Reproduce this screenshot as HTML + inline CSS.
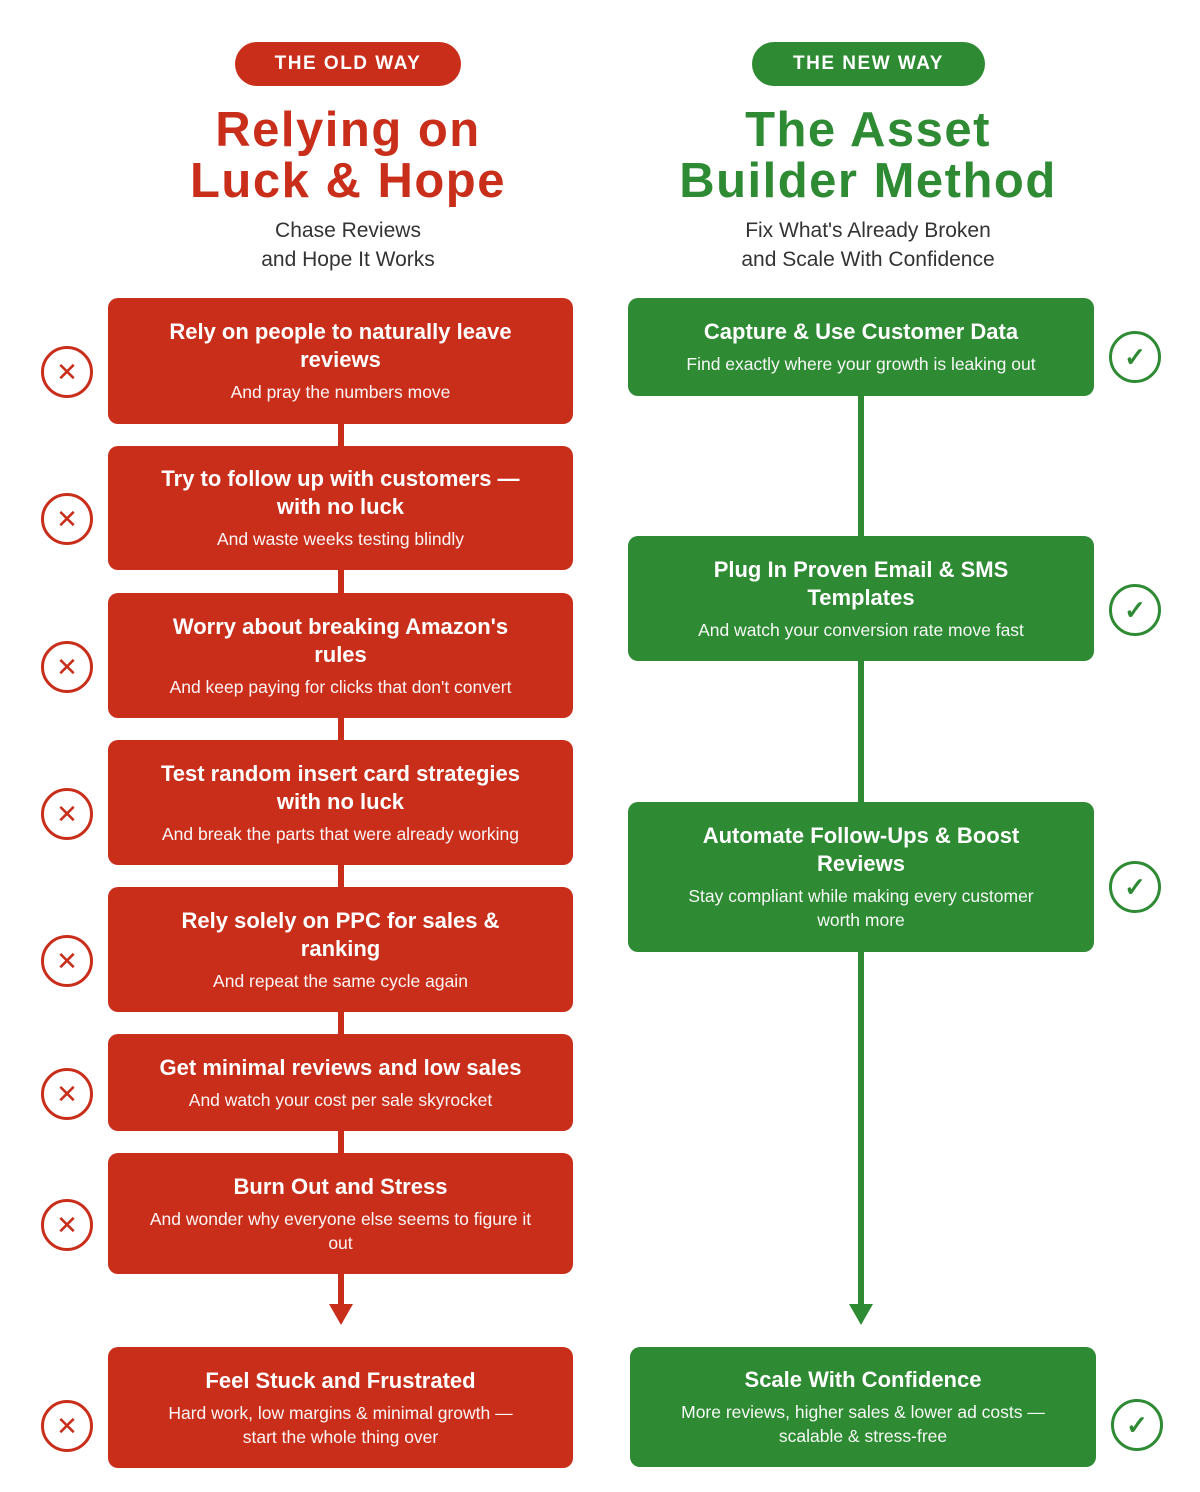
<!DOCTYPE html>
<html><head><meta charset="utf-8"><style>
*{margin:0;padding:0;box-sizing:border-box}
body{width:1200px;height:1492px;background:#fff;position:relative;overflow:hidden;font-family:"Liberation Sans",sans-serif}
.a{position:absolute}
.pill{position:absolute;top:42px;height:44px;border-radius:22px;color:#fff;font-weight:bold;font-size:19px;letter-spacing:1.5px;display:flex;align-items:center;justify-content:center}
.h{position:absolute;text-align:center;font-weight:900;font-size:49px;line-height:51px;letter-spacing:1.5px}
.s{position:absolute;text-align:center;font-size:21px;line-height:29px;color:#333}
.box{position:absolute;border-radius:10px;color:#fff;display:flex;flex-direction:column;justify-content:center;align-items:center;text-align:center;padding:0 18px}
.r{background:#c92e1b;left:108px;width:465px}
.g{background:#2e8a33;left:628px;width:466px}
.t{font-weight:bold;font-size:22px;line-height:28px}
.d{font-size:17.5px;line-height:24px;margin-top:6px;opacity:.95}
.ic{position:absolute;width:52px;height:52px;border-radius:50%;border:3px solid;display:flex;align-items:center;justify-content:center}
.x{left:41px;border-color:#c92e1b;color:#c92e1b;font-size:26px;font-weight:normal}
.c{border-color:#2e8a33;color:#2e8a33;font-size:26px;font-weight:bold}
</style></head><body>
<div class="pill" style="left:235px;width:226px;background:#c92e1b">THE OLD WAY</div>
<div class="pill" style="left:752px;width:233px;background:#2e8a33">THE NEW WAY</div>
<div class="h" style="left:48px;width:600px;top:105px;color:#c92e1b">Relying on<br>Luck &amp; Hope</div>
<div class="h" style="left:568px;width:600px;top:105px;color:#2e8a33">The Asset<br>Builder Method</div>
<div class="s" style="left:98px;width:500px;top:216px">Chase Reviews<br>and Hope It Works</div>
<div class="s" style="left:618px;width:500px;top:216px">Fix What's Already Broken<br>and Scale With Confidence</div>

<div class="a" style="left:338px;top:400px;width:6px;height:908px;background:#c92e1b"></div>
<div class="a" style="left:329px;top:1304px;width:0;height:0;border-left:12px solid transparent;border-right:12px solid transparent;border-top:21px solid #c92e1b"></div>
<div class="a" style="left:858px;top:380px;width:6px;height:928px;background:#2e8a33"></div>
<div class="a" style="left:849px;top:1304px;width:0;height:0;border-left:12px solid transparent;border-right:12px solid transparent;border-top:21px solid #2e8a33"></div>

<div class="box r" style="top:298px;height:126px"><div class="t">Rely on people to naturally leave<br>reviews</div><div class="d">And pray the numbers move</div></div>
<div class="box r" style="top:446px;height:124px"><div class="t">Try to follow up with customers —<br>with no luck</div><div class="d">And waste weeks testing blindly</div></div>
<div class="box r" style="top:593px;height:125px"><div class="t">Worry about breaking Amazon's<br>rules</div><div class="d">And keep paying for clicks that don't convert</div></div>
<div class="box r" style="top:740px;height:125px"><div class="t">Test random insert card strategies<br>with no luck</div><div class="d">And break the parts that were already working</div></div>
<div class="box r" style="top:887px;height:125px"><div class="t">Rely solely on PPC for sales &amp;<br>ranking</div><div class="d">And repeat the same cycle again</div></div>
<div class="box r" style="top:1034px;height:97px"><div class="t">Get minimal reviews and low sales</div><div class="d">And watch your cost per sale skyrocket</div></div>
<div class="box r" style="top:1153px;height:121px"><div class="t">Burn Out and Stress</div><div class="d">And wonder why everyone else seems to figure it<br>out</div></div>
<div class="box r" style="top:1347px;height:121px"><div class="t">Feel Stuck and Frustrated</div><div class="d">Hard work, low margins &amp; minimal growth —<br>start the whole thing over</div></div>

<div class="box g" style="top:298px;height:98px"><div class="t">Capture &amp; Use Customer Data</div><div class="d">Find exactly where your growth is leaking out</div></div>
<div class="box g" style="top:536px;height:125px"><div class="t">Plug In Proven Email &amp; SMS<br>Templates</div><div class="d">And watch your conversion rate move fast</div></div>
<div class="box g" style="top:802px;height:150px"><div class="t">Automate Follow-Ups &amp; Boost<br>Reviews</div><div class="d">Stay compliant while making every customer<br>worth more</div></div>
<div class="box g" style="top:1347px;height:120px;left:630px"><div class="t">Scale With Confidence</div><div class="d">More reviews, higher sales &amp; lower ad costs —<br>scalable &amp; stress-free</div></div>

<div class="ic x" style="top:346px">✕</div>
<div class="ic x" style="top:493px">✕</div>
<div class="ic x" style="top:641px">✕</div>
<div class="ic x" style="top:788px">✕</div>
<div class="ic x" style="top:935px">✕</div>
<div class="ic x" style="top:1068px">✕</div>
<div class="ic x" style="top:1199px">✕</div>
<div class="ic x" style="top:1400px">✕</div>

<div class="ic c" style="left:1109px;top:331px">✓</div>
<div class="ic c" style="left:1109px;top:584px">✓</div>
<div class="ic c" style="left:1109px;top:861px">✓</div>
<div class="ic c" style="left:1111px;top:1399px">✓</div>
</body></html>
